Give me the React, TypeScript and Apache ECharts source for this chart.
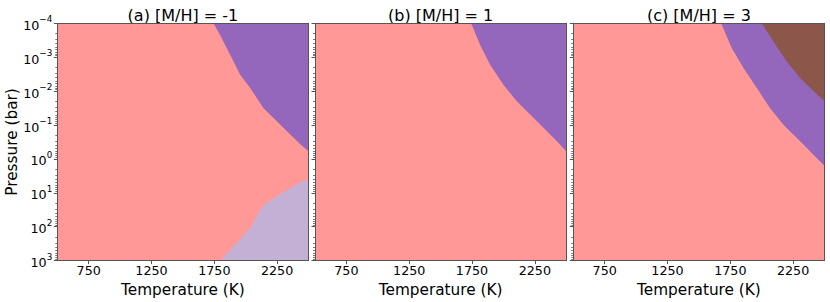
import React, { useEffect, useRef } from "react";
import * as echarts from "echarts";

// ---- data ----
const PANEL_TITLES = ["(a) [M/H] = -1", "(b) [M/H] = 1", "(c) [M/H] = 3"];
const T_MIN = 500;
const T_MAX = 2500;
const P_MIN = 1e-4;
const P_MAX = 1e3;
const X_TICKS = [750, 1250, 1750, 2250];

// boundary of the purple (upper-right) region, panel (a): [T (K), P (bar)]
const aPurpleEdge: number[][] = [
  [1743, 1e-4], [1796, 2.2e-4], [1876, 8.5e-4], [1956, 3.3e-3], [2036, 8.1e-3],
  [2142, 3.2e-2], [2248, 7.8e-2], [2355, 0.19], [2435, 0.37], [2500, 0.59],
];
// boundary of the lavender (lower-right) region, panel (a)
const aLavenderEdge: number[][] = [
  [1802, 1000], [1902, 380], [1982, 186], [2049, 93], [2102, 38], [2155, 21],
  [2208, 16], [2275, 11], [2341, 7.8], [2408, 5.6], [2474, 4.3], [2500, 4.3],
];
// panel (b)
const bPurpleEdge: number[][] = [
  [1743, 1e-4], [1815, 4.4e-4], [1894, 1.66e-3], [2000, 6.5e-3], [2107, 0.02],
  [2213, 0.049], [2319, 0.12], [2426, 0.3], [2500, 0.59],
];
// panel (c)
const cPurpleEdge: number[][] = [
  [1677, 1e-4], [1762, 5.4e-4], [1855, 2.1e-3], [1961, 8.1e-3], [2067, 0.032],
  [2173, 0.098], [2306, 0.3], [2412, 0.76], [2500, 1.6],
];
const cBrownEdge: number[][] = [
  [2001, 1e-4], [2094, 3.5e-4], [2200, 1.35e-3], [2306, 4.1e-3], [2412, 0.01],
  [2500, 0.02],
];

const COLOR_BASE = "#ff9896";
const COLOR_PURPLE = "#9467bd";
const COLOR_LAVENDER = "#c5b0d5";
const COLOR_BROWN = "#8c564b";

const REGIONS = [
  { panel: 0, edge: aPurpleEdge, corner: [T_MAX, P_MIN], color: COLOR_PURPLE },
  { panel: 0, edge: aLavenderEdge, corner: [T_MAX, P_MAX], color: COLOR_LAVENDER },
  { panel: 1, edge: bPurpleEdge, corner: [T_MAX, P_MIN], color: COLOR_PURPLE },
  { panel: 2, edge: cPurpleEdge, corner: [T_MAX, P_MIN], color: COLOR_PURPLE },
  { panel: 2, edge: cBrownEdge, corner: [T_MAX, P_MIN], color: COLOR_BROWN },
];

// ---- layout ----
const GRID_LEFT = [57.3, 315, 573.3];
const GRID_TOP = 23.3;
const GRID_W = 251.2;
const GRID_H = 238.4;
const FONT = "DejaVu Sans";
const SPINE = "#555555";

function powLabel(v: number): string {
  const e = Math.round(Math.log10(v));
  const es = e < 0 ? "\u2212" + String(-e) : String(e);
  return "{b|10}{s|" + es + "}";
}

const MINOR_VALUES: number[] = [];
for (let e = -4; e < 3; e++) {
  for (let m = 2; m <= 9; m++) MINOR_VALUES.push(m * Math.pow(10, e));
}

export default function App() {
  const ref = useRef<HTMLDivElement>(null);
  useEffect(() => {
    if (!ref.current) return;
    const chart = echarts.init(ref.current, undefined, { renderer: "svg" });

    const grid: any[] = [];
    const xAxis: any[] = [];
    const yAxis: any[] = [];
    const series: any[] = [];
    const graphic: any[] = [];

    for (let i = 0; i < 3; i++) {
      grid.push({
        left: GRID_LEFT[i], top: GRID_TOP, width: GRID_W, height: GRID_H,
        show: true, backgroundColor: COLOR_BASE, borderWidth: 0,
      });
      // main bottom x axis
      xAxis.push({
        type: "value", gridIndex: i, min: T_MIN, max: T_MAX, position: "bottom", z: 10,
        name: "Temperature (K)", nameLocation: "middle", nameGap: 16,
        nameTextStyle: { fontFamily: FONT, fontSize: 15.3, color: "#000" },
        axisLine: { show: true, onZero: false, lineStyle: { color: SPINE, width: 1 } },
        axisTick: { show: true, customValues: X_TICKS, length: 3.5, lineStyle: { color: SPINE } },
        axisLabel: {
          show: true, customValues: X_TICKS, margin: 3.5, fontFamily: FONT, fontSize: 12.7, color: "#000",
          formatter: (v: number) => String(v),
        },
        splitLine: { show: false },
      });
      // top spine
      xAxis.push({
        type: "value", gridIndex: i, min: T_MIN, max: T_MAX, position: "top", z: 10,
        axisLine: { show: true, onZero: false, lineStyle: { color: SPINE, width: 1 } },
        axisTick: { show: false }, axisLabel: { show: false }, splitLine: { show: false },
      });
      // main left y axis
      yAxis.push({
        type: "log", logBase: 10, gridIndex: i, min: P_MIN, max: P_MAX, inverse: true,
        splitNumber: 7, position: "left", z: 10,
        name: i === 0 ? "Pressure (bar)" : "", nameLocation: "middle", nameGap: 33, nameRotate: 90,
        nameTextStyle: { fontFamily: FONT, fontSize: 15.3, color: "#000" },
        axisLine: { show: true, onZero: false, lineStyle: { color: SPINE, width: 1 } },
        axisTick: { show: true, length: 3.5, lineStyle: { color: SPINE } },
        axisLabel: {
          show: i === 0, margin: 5, fontFamily: FONT, color: "#000",
          formatter: (v: number) => powLabel(v),
          rich: {
            b: { fontFamily: FONT, fontSize: 12.7, color: "#000", lineHeight: 17, verticalAlign: "bottom" },
            s: { fontFamily: FONT, fontSize: 8.8, color: "#000", lineHeight: 17, verticalAlign: "top" },
          },
        },
        splitLine: { show: false },
      });
      // right spine
      yAxis.push({
        type: "log", logBase: 10, gridIndex: i, min: P_MIN, max: P_MAX, inverse: true,
        position: "right", z: 10,
        axisLine: { show: true, onZero: false, lineStyle: { color: SPINE, width: 1 } },
        axisTick: { show: false }, axisLabel: { show: false }, splitLine: { show: false },
      });
      // minor ticks (left)
      yAxis.push({
        type: "log", logBase: 10, gridIndex: i, min: P_MIN, max: P_MAX, inverse: true,
        position: "left", z: 10,
        axisLine: { show: false },
        axisTick: { show: true, customValues: MINOR_VALUES, length: 2, lineStyle: { color: SPINE, width: 0.8 } },
        axisLabel: { show: false }, splitLine: { show: false },
      });

      graphic.push({
        type: "text", x: GRID_LEFT[i] + GRID_W / 2, y: 15,
        style: {
          text: PANEL_TITLES[i], fontFamily: FONT, fontSize: 16, fill: "#000",
          textAlign: "center", textVerticalAlign: "middle",
        },
      });
    }

    REGIONS.forEach((r) => {
      const poly = [...r.edge, r.corner];
      series.push({
        type: "custom",
        xAxisIndex: r.panel * 2,
        yAxisIndex: r.panel * 3,
        clip: true,
        z: 2,
        data: r.edge,
        encode: { x: 0, y: 1 },
        renderItem: (params: any, api: any) => {
          if (params.dataIndex !== 0) return null;
          const pts = poly.map((p) => api.coord(p));
          return { type: "polygon", shape: { points: pts }, style: { fill: r.color } };
        },
      });
    });

    chart.setOption({
      animation: false,
      backgroundColor: "#ffffff",
      grid, xAxis, yAxis, series, graphic,
    });
    return () => chart.dispose();
  }, []);

  return (
    <div
      ref={ref}
      style={{ position: "absolute", left: 0, top: 0, width: 830, height: 302 }}
    />
  );
}
